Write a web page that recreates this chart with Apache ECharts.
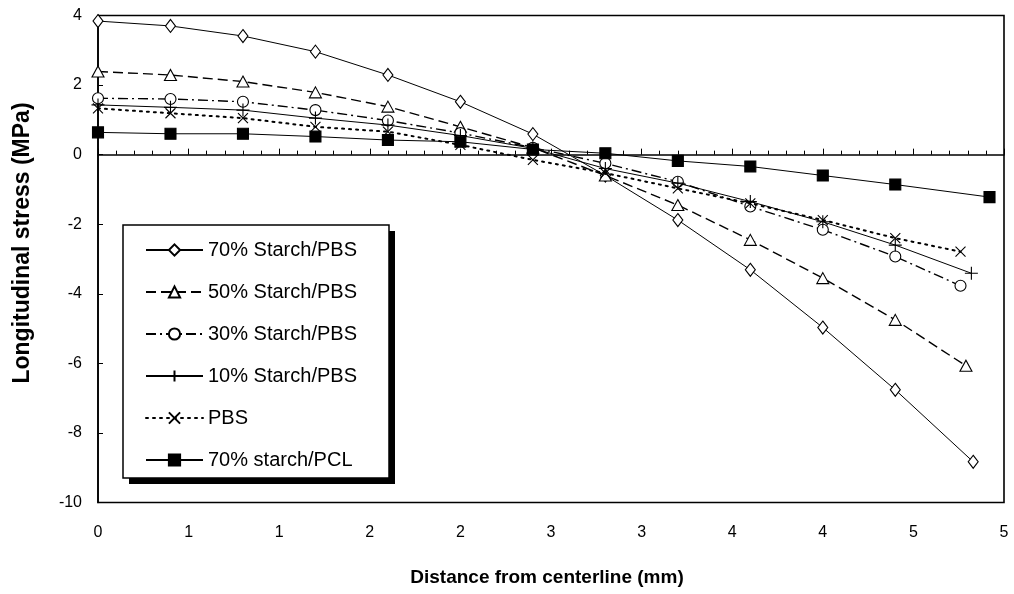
<!DOCTYPE html>
<html>
<head>
<meta charset="utf-8">
<script src="https://cdn.jsdelivr.net/npm/echarts@6/dist/echarts.min.js"></script>
<style>
  html, body { margin: 0; padding: 0; background: #fff; }
  #chart { width: 1014px; height: 594px; }
</style>
</head>
<body>
<div id="chart"></div>
<script>
// ---- data ----
const seriesNames = ['70% Starch/PBS', '50% Starch/PBS', '30% Starch/PBS', '10% Starch/PBS', 'PBS', '70% starch/PCL'];
const commonX = [0, 0.4, 0.8, 1.2, 1.6, 2.0, 2.4, 2.8, 3.2, 3.6, 4.0, 4.4];
const lastX = [4.83, 4.79, 4.76, 4.82, 4.76, 4.92];
const starch70 = [3.84, 3.70, 3.41, 2.96, 2.29, 1.52, 0.59, -0.60, -1.88, -3.31, -4.97, -6.76, -8.83];
const starch50 = [2.39, 2.29, 2.10, 1.79, 1.38, 0.80, 0.20, -0.60, -1.45, -2.45, -3.55, -4.75, -6.07];
const starch30 = [1.62, 1.60, 1.52, 1.28, 0.98, 0.62, 0.20, -0.25, -0.78, -1.49, -2.16, -2.93, -3.77];
const starch10 = [1.43, 1.36, 1.28, 1.05, 0.85, 0.55, 0.18, -0.40, -0.82, -1.35, -1.93, -2.60, -3.41];
const pbs      = [1.33, 1.19, 1.05, 0.80, 0.66, 0.28, -0.15, -0.53, -0.97, -1.40, -1.88, -2.40, -2.79];
const pcl      = [0.64, 0.60, 0.60, 0.52, 0.42, 0.37, 0.15, 0.04, -0.18, -0.34, -0.60, -0.86, -1.22];
const xTickLabels = ['0', '1', '1', '2', '2', '3', '3', '4', '4', '5', '5'];
const yTickLabels = ['-10', '-8', '-6', '-4', '-2', '0', '2', '4'];

const allValues = [starch70, starch50, starch30, starch10, pbs, pcl];

function pairs(vals, endX) {
  const xs = commonX.concat([endX]);
  return vals.map((v, i) => [xs[i], v]);
}

const FONT = 'Liberation Sans, Arial, sans-serif';
const plusPath = 'path://M5,0 L5,10 M0,5 L10,5';
const xPath = 'path://M0,0 L10,10 M10,0 L0,10';

const styles = [
  { symbol: 'diamond', symbolSize: [10, 13], line: { type: 'solid', width: 1 }, fill: '#fff' },
  { symbol: 'triangle', symbolSize: [12, 11], line: { type: [10, 5], width: 1.4 }, fill: '#fff' },
  { symbol: 'circle', symbolSize: 11, line: { type: [10, 4, 2, 4], width: 1.4 }, fill: '#fff' },
  { symbol: plusPath, symbolSize: 13, line: { type: 'solid', width: 1 }, fill: 'none' },
  { symbol: xPath, symbolSize: 10, line: { type: [2, 5], width: 2, cap: 'round' }, fill: 'none' },
  { symbol: 'rect', symbolSize: 11, line: { type: 'solid', width: 1 }, fill: '#000' }
];

const series = seriesNames.map((name, i) => ({
  name: name,
  type: 'line',
  data: pairs(allValues[i], lastX[i]),
  symbol: styles[i].symbol,
  symbolSize: styles[i].symbolSize,
  showAllSymbol: true,
  smooth: false,
  lineStyle: { color: '#000', width: styles[i].line.width, type: styles[i].line.type, cap: styles[i].line.cap || 'butt' },
  itemStyle: { color: styles[i].fill === 'none' ? 'rgba(0,0,0,0)' : styles[i].fill, borderColor: '#000', borderWidth: 1.1 },
  emphasis: { disabled: true },
  z: 3 + i
}));

const chart = echarts.init(document.getElementById('chart'), null, { renderer: 'canvas' });
chart.setOption({
  animation: false,
  backgroundColor: '#fff',
  textStyle: { fontFamily: FONT },
  grid: { left: 98, right: 10, top: 15.5, bottom: 91.5, show: true, borderColor: '#000', borderWidth: 1.6, backgroundColor: 'transparent' },
  xAxis: {
    type: 'value', min: 0, max: 5, interval: 0.5,
    name: 'Distance from centerline (mm)', nameLocation: 'middle', nameGap: 66,
    nameTextStyle: { fontFamily: FONT, fontSize: 19, fontWeight: 'bold', color: '#000', padding: [0, 8, 0, 0] },
    axisLine: { lineStyle: { color: '#000', width: 1.6 } },
    axisTick: { inside: true, length: 6, lineStyle: { color: '#000', width: 1 } },
    minorTick: { show: true, splitNumber: 5, length: 4, lineStyle: { color: '#000', width: 1 } },
    splitLine: { show: false },
    axisLabel: {
      margin: 22, fontSize: 16, color: '#000', fontFamily: FONT,
      formatter: function (v) { return xTickLabels[Math.round(v / 0.5)]; }
    }
  },
  yAxis: {
    type: 'value', min: -10, max: 4, interval: 2,
    name: 'Longitudinal stress (MPa)', nameLocation: 'middle', nameGap: 64, nameRotate: 90,
    nameTextStyle: { fontFamily: FONT, fontSize: 23, fontWeight: 'bold', color: '#000', padding: [0, 0, 0, 32] },
    axisLine: { lineStyle: { color: '#000', width: 1.6 } },
    axisTick: { inside: true, length: 5, lineStyle: { color: '#000', width: 1 } },
    splitLine: { show: false },
    axisLabel: {
      margin: 16, fontSize: 16, color: '#000', fontFamily: FONT,
      formatter: function (v) { return yTickLabels[Math.round((v + 10) / 2)]; }
    }
  },
  graphic: [
    { type: 'rect', shape: { x: 129, y: 231, width: 266, height: 253 }, style: { fill: '#000' }, z: 10 },
    { type: 'rect', shape: { x: 123, y: 225, width: 266, height: 253 }, style: { fill: '#fff', stroke: '#000', lineWidth: 1.5 }, z: 11 }
  ],
  legend: {
    orient: 'vertical', left: 140, top: 235, itemWidth: 57, itemHeight: 14, itemGap: 22,
    z: 20,
    textStyle: { fontFamily: FONT, fontSize: 20, color: '#000', lineHeight: 20 },
    selectedMode: false,
    data: seriesNames
  },
  series: series
});
</script>
</body>
</html>
